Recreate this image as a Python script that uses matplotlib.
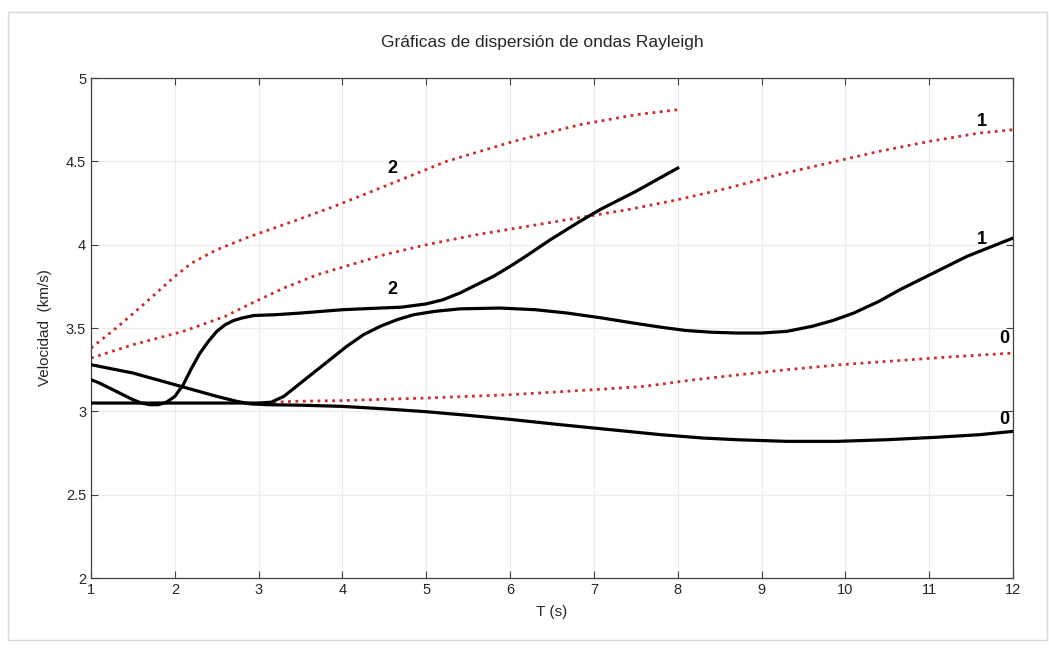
import matplotlib
matplotlib.use("Agg")
import matplotlib.pyplot as plt
from matplotlib.patches import Rectangle

plt.rcParams['font.family'] = ['Liberation Sans', 'DejaVu Sans']

# group velocity curves (black, solid)
t_mode0 = [1.0, 1.5, 2.0, 2.5, 2.74, 2.9, 3.1, 3.5, 4.0, 4.5, 5.0, 5.5, 6.0, 6.6, 7.2,
           7.8, 8.3, 8.7, 9.3, 9.9, 10.5, 11.1, 11.6, 12.0]
v_mode0 = [3.28, 3.23, 3.16, 3.09, 3.06, 3.045, 3.04, 3.037, 3.03, 3.015, 2.998, 2.976,
           2.952, 2.92, 2.89, 2.86, 2.84, 2.83, 2.82, 2.82, 2.83, 2.845, 2.86, 2.88]

t_mode1 = [1.0, 2.0, 3.0, 3.15, 3.3, 3.45, 3.65, 3.85, 4.05, 4.25, 4.45, 4.65, 4.85, 5.1,
           5.4, 5.88, 6.3, 6.68, 7.1, 7.47, 7.8, 8.1, 8.4, 8.7, 9.0, 9.3, 9.6, 9.85, 10.1,
           10.4, 10.65, 11.05, 11.45, 11.75, 12.0]
v_mode1 = [3.05, 3.05, 3.05, 3.055, 3.09, 3.15, 3.23, 3.31, 3.39, 3.46, 3.51, 3.55, 3.58,
           3.60, 3.615, 3.62, 3.61, 3.59, 3.56, 3.53, 3.505, 3.485, 3.475, 3.47, 3.47, 3.48,
           3.51, 3.545, 3.59, 3.66, 3.73, 3.83, 3.93, 3.99, 4.04]

t_mode2 = [1.0, 1.1, 1.2, 1.3, 1.4, 1.5, 1.6, 1.7, 1.8, 1.9, 2.0, 2.1, 2.2, 2.3, 2.4, 2.5,
           2.6, 2.7, 2.8, 2.94, 3.2, 3.5, 4.0, 4.45, 4.7, 5.0, 5.2, 5.4, 5.6, 5.8, 6.0, 6.2,
           6.48, 6.8, 7.07, 7.5, 8.0]
v_mode2 = [3.19, 3.17, 3.145, 3.12, 3.095, 3.07, 3.05, 3.04, 3.04, 3.055, 3.09, 3.16, 3.26,
           3.35, 3.42, 3.48, 3.52, 3.545, 3.56, 3.575, 3.58, 3.59, 3.61, 3.62, 3.625, 3.645,
           3.67, 3.71, 3.76, 3.81, 3.87, 3.935, 4.03, 4.13, 4.21, 4.32, 4.46]

# phase velocity curves (red, dotted)
t_fase0 = [3.0, 3.4, 4.0, 5.0, 6.0, 7.0, 7.6, 8.2, 8.74, 9.3, 9.94, 10.5, 11.2, 12.0]
v_fase0 = [3.05, 3.06, 3.065, 3.08, 3.10, 3.13, 3.15, 3.19, 3.22, 3.25, 3.28, 3.30, 3.325, 3.35]

t_fase1 = [1.0, 1.5, 2.1, 2.6, 2.9, 3.3, 3.7, 4.1, 4.5, 5.0, 5.6, 6.2, 6.8, 7.4, 8.0,
           8.6, 9.2, 9.8, 10.4, 11.0, 11.6, 12.0]
v_fase1 = [3.32, 3.40, 3.48, 3.57, 3.645, 3.74, 3.82, 3.88, 3.94, 4.00, 4.06, 4.11, 4.16,
           4.21, 4.27, 4.34, 4.42, 4.49, 4.56, 4.62, 4.67, 4.69]

t_fase2 = [1.0, 1.3, 1.6, 1.8, 2.0, 2.2, 2.5, 2.9, 3.3, 3.9, 4.45, 5.24, 6.04, 6.83, 7.5, 8.0]
v_fase2 = [3.38, 3.50, 3.63, 3.72, 3.81, 3.89, 3.97, 4.05, 4.12, 4.23, 4.34, 4.50, 4.62,
           4.72, 4.78, 4.81]

# mode labels
etiquetas = ['2', '2', '1', '1', '0', '0']
etiq_t = [4.59, 4.59, 11.63, 11.63, 11.9, 11.9]
etiq_v = [4.46, 3.73, 4.74, 4.03, 3.44, 2.95]

fig = plt.figure(figsize=(10.49, 6.51), dpi=100)
ax = fig.add_axes([0.0868, 0.1121, 0.8789, 0.768])

for t, v in [(t_fase0, v_fase0), (t_fase1, v_fase1), (t_fase2, v_fase2)]:
    ax.plot(t, v, linestyle=':', color='#d02a2a', linewidth=2.0, zorder=2)
for t, v in [(t_mode0, v_mode0), (t_mode1, v_mode1), (t_mode2, v_mode2)]:
    ax.plot(t, v, '-', color='black', linewidth=2.3, zorder=3, solid_joinstyle='round')

for s, t, v in zip(etiquetas, etiq_t, etiq_v):
    ax.text(t, v, s, fontsize=13, fontweight='bold', ha='center', va='center', zorder=4)

ax.set_xlim(1, 12)
ax.set_ylim(2, 5)
ax.set_xticks(range(1, 13))
ax.set_yticks([2, 2.5, 3, 3.5, 4, 4.5, 5])
ax.set_yticklabels(['2', '2.5', '3', '3.5', '4', '4.5', '5'])
ax.grid(True, color='#ececec', linewidth=0.8)
ax.set_axisbelow(True)
ax.tick_params(direction='in', top=True, right=True, length=5, labelsize=10.5,
               color='#404040', labelcolor='#262626')
for sp in ax.spines.values():
    sp.set_color('#404040')
    sp.set_linewidth(0.9)

ax.set_xlabel('T (s)', fontsize=11, color='#262626', labelpad=6)
ax.set_ylabel('Velocidad  (km/s)', fontsize=11, color='#262626', labelpad=10)
fig.text(0.517, 0.934, 'Gráficas de dispersión de ondas Rayleigh', fontsize=12.5,
         ha='center', va='center', color='#262626')

fig.patches.append(Rectangle((0.008, 0.017), 0.99, 0.965, transform=fig.transFigure,
                             fill=False, edgecolor='#d8d8d8', linewidth=1.0))

fig.savefig('out.png', dpi=100)
